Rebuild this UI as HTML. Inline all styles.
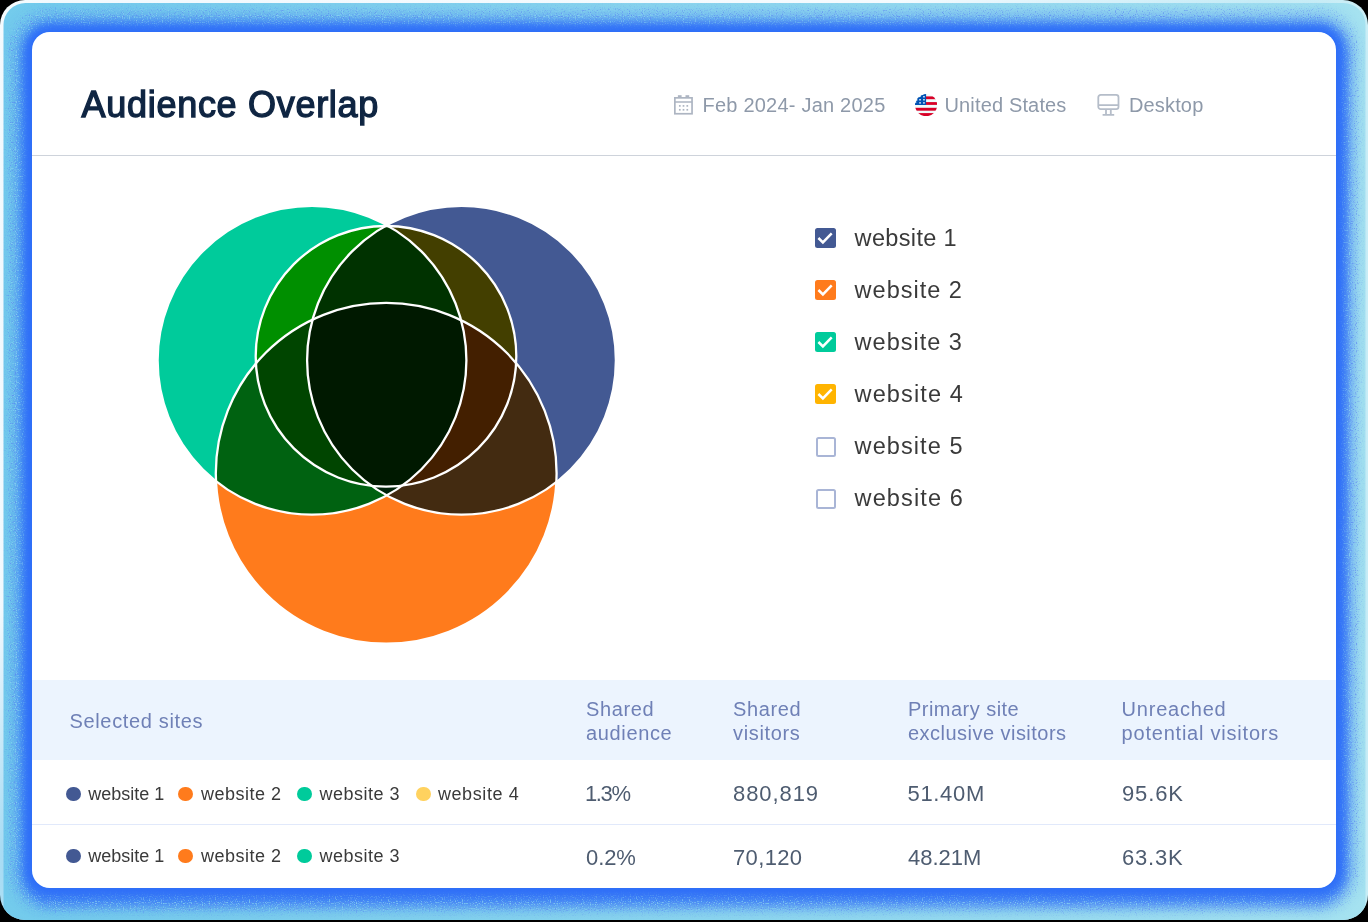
<!DOCTYPE html>
<html lang="en">
<head>
<meta charset="utf-8">
<title>Audience Overlap</title>
<style>
  html, body { margin: 0; padding: 0; }
  body {
    width: 1368px; height: 922px; overflow: hidden; position: relative;
    background: #000;
    font-family: "Liberation Sans", sans-serif;
  }
  .abs { position: absolute; }
  /* outer near-white ring + gradient frame */
  #ring {
    left: 0; top: 0; width: 1368px; height: 920px;
    background: linear-gradient(to bottom right, rgba(255,255,255,.93) 0%, rgba(255,255,255,.93) 33%, rgba(255,255,255,.42) 46%, rgba(255,255,255,.38) 100%), linear-gradient(90deg, #6fc6ec, #a5e2f0); border-radius: 25px; overflow: hidden;
  }
  #frame { left: 0; top: 0; width: 1368px; height: 920px; }
  #card {
    left: 32px; top: 32px; width: 1304px; height: 856px;
    background: #fff; border-radius: 18px; overflow: hidden;
  }
  #glow { left: 32px; top: 32px; width: 1304px; height: 856px; border-radius: 18px;
    box-shadow: 0 0 0 1px #2f6ff8, 0 0 8px 4px #2f6ff8, 0 0 14px 8px rgba(47,111,248,0.75), 0 0 16px 16px rgba(60,125,246,0.45), 6px 0 10px 5px rgba(60,125,246,0.5), 0 -4px 8px 5px rgba(60,125,246,0.5), 0 10px 12px 8px rgba(47,111,248,0.7); }
  .t { position: absolute; white-space: nowrap; line-height: 1; }
  #title { left: 49.6px; top: 55px; font-size: 36px; font-weight: normal; color: #0f2542; -webkit-text-stroke: 1.35px #0f2542; letter-spacing: 0.7px; }
  .hd { font-size: 20px; color: #8e99a9; }
  #divider { left: 0; top: 123px; width: 1304px; height: 1px; background: #ced3db; }
  .lg { font-size: 23.5px; color: #3a3a3a; }
  .cb { position: absolute; left: 783.2px; width: 20.6px; height: 20px; border-radius: 2.5px; box-sizing: border-box; }
  .cb.off { border: 2px solid #a9b5d6; background: #fff; margin: 0.6px 0 0 0.8px; width: 20px; }
  #band { left: 0; top: 648px; width: 1304px; height: 80px; background: #ecf4fe; }
  .th { font-size: 20px; color: #6f80b6; line-height: 24px; letter-spacing: 0.65px; }
  #sep { left: 0; top: 792px; width: 1304px; height: 1px; background: #e1e9fb; }
  .dot { position: absolute; width: 14.9px; height: 14.9px; border-radius: 50%; margin: 0 0 0 -0.1px; }
  .rw { font-size: 18px; color: #3a3a3a; }
  .val { font-size: 22px; color: #4e5c70; }
</style>
</head>
<body>
<div id="ring" class="abs">
  <svg id="frame" class="abs" width="1368" height="920" viewBox="0 0 1368 920">
    <defs>
      <linearGradient id="gOuter" x1="0" y1="0" x2="1" y2="0">
        <stop offset="0" stop-color="#73cbec"/>
        <stop offset="1" stop-color="#a5e2f0"/>
      </linearGradient>
    </defs>
    <rect x="3.5" y="3" width="1362" height="940" rx="22" ry="22" fill="url(#gOuter)"/>
  </svg>
  <div id="glow" class="abs"></div>
  <svg id="grain" class="abs" style="left:0;top:0" width="1368" height="920" viewBox="0 0 1368 920">
    <defs>
      <filter id="fBlue" x="0" y="0" width="100%" height="100%" color-interpolation-filters="sRGB">
        <feTurbulence type="fractalNoise" baseFrequency="0.85" numOctaves="1" seed="7"/>
        <feColorMatrix type="matrix" values="0 0 0 0 0.36  0 0 0 0 0.52  0 0 0 0 0.95  5 0 0 0 -2.7"/>
      </filter>
      <filter id="fCyan" x="0" y="0" width="100%" height="100%" color-interpolation-filters="sRGB">
        <feTurbulence type="fractalNoise" baseFrequency="0.85" numOctaves="1" seed="23"/>
        <feColorMatrix type="matrix" values="0 0 0 0 0.55  0 0 0 0 0.84  0 0 0 0 0.94  5 0 0 0 -2.7"/>
      </filter>
      <clipPath id="frameClip"><rect x="3.5" y="3" width="1362" height="940" rx="22" ry="22"/></clipPath>
      <filter id="fBlur" x="-5%" y="-5%" width="110%" height="110%"><feGaussianBlur stdDeviation="3.5"/></filter>
      <mask id="midMask" maskUnits="userSpaceOnUse" x="0" y="0" width="1368" height="920">
        <rect x="15" y="16" width="1337" height="889" rx="33" ry="33" fill="none" stroke="#fff" stroke-width="15" filter="url(#fBlur)"/>
      </mask>
    </defs>
    <g clip-path="url(#frameClip)">
      <g mask="url(#midMask)">
        <rect x="0" y="0" width="1368" height="920" filter="url(#fBlue)" opacity="0.8"/>
        <rect x="0" y="0" width="1368" height="920" filter="url(#fCyan)" opacity="0.8"/>
      </g>
    </g>
  </svg>
</div>
<div id="card" class="abs">
  <div id="title" class="t">Audience Overlap</div>
  <div id="divider" class="abs"></div>
  <div id="band" class="abs"></div>
  <div id="sep" class="abs"></div>

  <svg id="venn" class="abs" style="left:0;top:0;isolation:isolate" width="700" height="640" viewBox="32 32 700 640">
    <g style="isolation:isolate">
      <circle cx="312" cy="360.3" r="154.4" fill="#00cb9b" style="mix-blend-mode:multiply"/>
      <circle cx="461.5" cy="360.3" r="154.4" fill="#435993" style="mix-blend-mode:multiply"/>
      <circle cx="386.2" cy="473.3" r="170.4" fill="#ff7b1c" style="mix-blend-mode:multiply"/>
      <circle cx="386" cy="356.3" r="130.3" fill="#ffb400" style="mix-blend-mode:multiply"/>
    </g>
    <g fill="none" stroke="#ffffff" stroke-width="2.3">
      <circle cx="312" cy="360.3" r="154.4"/>
      <circle cx="461.5" cy="360.3" r="154.4"/>
      <circle cx="386.2" cy="473.3" r="170.4"/>
      <circle cx="386" cy="356.3" r="130.3"/>
    </g>
  </svg>
  <div class="cb" style="top:196px;background:#435993"><svg width="20" height="20" viewBox="0 0 20 20"><path d="M3.4 10 L7.9 14.4 L16.7 5.3" fill="none" stroke="#fff" stroke-width="2.5"/></svg></div>
  <div class="t lg" style="left:822.6px;top:194.6px;letter-spacing:0.35px">website 1</div>
  <div class="cb" style="top:248px;background:#ff7b1c"><svg width="20" height="20" viewBox="0 0 20 20"><path d="M3.4 10 L7.9 14.4 L16.7 5.3" fill="none" stroke="#fff" stroke-width="2.5"/></svg></div>
  <div class="t lg" style="left:822.6px;top:246.6px;letter-spacing:1.0px">website 2</div>
  <div class="cb" style="top:300px;background:#00cb9b"><svg width="20" height="20" viewBox="0 0 20 20"><path d="M3.4 10 L7.9 14.4 L16.7 5.3" fill="none" stroke="#fff" stroke-width="2.5"/></svg></div>
  <div class="t lg" style="left:822.6px;top:298.6px;letter-spacing:1.0px">website 3</div>
  <div class="cb" style="top:352px;background:#ffb400"><svg width="20" height="20" viewBox="0 0 20 20"><path d="M3.4 10 L7.9 14.4 L16.7 5.3" fill="none" stroke="#fff" stroke-width="2.5"/></svg></div>
  <div class="t lg" style="left:822.6px;top:350.6px;letter-spacing:1.12px">website 4</div>
  <div class="cb off" style="top:404px"></div>
  <div class="t lg" style="left:822.6px;top:402.6px;letter-spacing:1.08px">website 5</div>
  <div class="cb off" style="top:456px"></div>
  <div class="t lg" style="left:822.6px;top:454.6px;letter-spacing:1.12px">website 6</div>

  <svg class="abs" style="left:641px;top:62px" width="22" height="22" viewBox="0 0 22 22" fill="none" stroke="#adb5c2" stroke-width="1.7">
    <rect x="1.85" y="3.85" width="17.2" height="15.9"/>
    <line x1="1.85" y1="8" x2="19.05" y2="8"/>
    <g fill="#adb5c2" stroke="none">
      <rect x="4.9" y="1.2" width="3.7" height="2.6"/><rect x="12.5" y="1.2" width="3.7" height="2.6"/>
      <rect x="5.95" y="11.05" width="1.7" height="1.7"/><rect x="9.65" y="11.05" width="1.7" height="1.7"/><rect x="13.45" y="11.05" width="1.7" height="1.7"/>
      <rect x="5.95" y="14.95" width="1.7" height="1.7"/><rect x="9.65" y="14.95" width="1.7" height="1.7"/><rect x="13.45" y="14.95" width="1.7" height="1.7"/>
    </g>
  </svg>
  <div class="t hd" style="left:670.5px;top:63.3px;letter-spacing:0.22px">Feb 2024- Jan 2025</div>
  <svg class="abs" style="left:883px;top:61.9px" width="22.2" height="22.2" viewBox="0 0 22.2 22.2">
    <defs><clipPath id="fc"><circle cx="11.1" cy="11.1" r="11.1"/></clipPath></defs>
    <g clip-path="url(#fc)">
      <rect width="22.2" height="22.2" fill="#f0fbfb"/>
      <rect x="11" y="2.4" width="12" height="2.8" fill="#d80027"/>
      <rect x="11" y="8.1" width="12" height="2.8" fill="#d80027"/>
      <rect y="13.8" width="22.2" height="2.9" fill="#d80027"/>
      <rect y="19.1" width="22.2" height="3.1" fill="#d80027"/>
      <path d="M0 10.9 L0 9 L1.6 8.2 L0.9 7 L2.4 6.4 L2.2 4.2 L3.6 3.2 L5.6 3 L5.8 1.4 L8.4 0.8 L8.6 0 L11.1 0 L11.1 10.9 Z" fill="#0052b4"/>
      <g fill="#e6f0fa"><rect x="4.1" y="5.2" width="1.9" height="1.2"/><rect x="8" y="5.2" width="1.9" height="1.2"/><rect x="4.1" y="8.3" width="1.9" height="1.2"/><rect x="8" y="8.3" width="1.9" height="1.2"/><rect x="8" y="2.2" width="1.9" height="1.2"/></g>
    </g>
  </svg>
  <div class="t hd" style="left:912.5px;top:63.3px;letter-spacing:0.15px">United States</div>
  <svg class="abs" style="left:1065px;top:61px" width="24" height="24" viewBox="0 0 24 24" fill="none" stroke="#b5bdc9" stroke-width="1.8">
    <rect x="1.3" y="1.9" width="20.2" height="14.2" rx="2.4"/>
    <line x1="1.3" y1="12.2" x2="21.5" y2="12.2"/>
    <line x1="9" y1="16" x2="9" y2="21.8"/>
    <line x1="13.8" y1="16" x2="13.8" y2="21.8"/>
    <line x1="5.6" y1="21.9" x2="17.2" y2="21.9" stroke-width="1.9"/>
  </svg>
  <div class="t hd" style="left:1097px;top:63.3px;letter-spacing:0.15px">Desktop</div>
  <div class="t th" style="left:37.5px;top:677px">Selected sites</div>
  <div class="t th" style="left:554px;top:665px">Shared<br>audience</div>
  <div class="t th" style="left:701px;top:665px">Shared<br>visitors</div>
  <div class="t th" style="left:876px;top:665px;letter-spacing:0.47px">Primary site<br>exclusive visitors</div>
  <div class="t th" style="left:1089.6px;top:665px;letter-spacing:0.78px">Unreached<br>potential visitors</div>
  <div class="dot" style="left:33.9px;top:754.5px;background:#435993"></div><div class="t rw" style="left:56.3px;top:752.9px;letter-spacing:0px">website 1</div>
  <div class="dot" style="left:146.3px;top:754.5px;background:#ff7b1c"></div><div class="t rw" style="left:169px;top:752.9px;letter-spacing:0.5px">website 2</div>
  <div class="dot" style="left:265.1px;top:754.5px;background:#00cb9b"></div><div class="t rw" style="left:287.5px;top:752.9px;letter-spacing:0.5px">website 3</div>
  <div class="dot" style="left:383.8px;top:754.5px;background:#ffd25f"></div><div class="t rw" style="left:405.9px;top:752.9px;letter-spacing:0.6px">website 4</div>
  <div class="dot" style="left:33.9px;top:816.5px;background:#435993"></div><div class="t rw" style="left:56.3px;top:814.9px;letter-spacing:0px">website 1</div>
  <div class="dot" style="left:146.3px;top:816.5px;background:#ff7b1c"></div><div class="t rw" style="left:169px;top:814.9px;letter-spacing:0.5px">website 2</div>
  <div class="dot" style="left:265.1px;top:816.5px;background:#00cb9b"></div><div class="t rw" style="left:287.5px;top:814.9px;letter-spacing:0.5px">website 3</div>
  <div class="t val" style="left:553px;top:751.2px;letter-spacing:-1.4px">1.3%</div>
  <div class="t val" style="left:701px;top:751.2px;letter-spacing:0.92px">880,819</div>
  <div class="t val" style="left:875.5px;top:751.2px;letter-spacing:0.68px">51.40M</div>
  <div class="t val" style="left:1090px;top:751.2px;letter-spacing:0.87px">95.6K</div>
  <div class="t val" style="left:554px;top:815.1px;letter-spacing:-0.1px">0.2%</div>
  <div class="t val" style="left:701px;top:815.1px;letter-spacing:0.36px">70,120</div>
  <div class="t val" style="left:876px;top:815.1px;letter-spacing:0.0px">48.21M</div>
  <div class="t val" style="left:1090px;top:815.1px;letter-spacing:0.78px">63.3K</div>
</div>
</body>
</html>
